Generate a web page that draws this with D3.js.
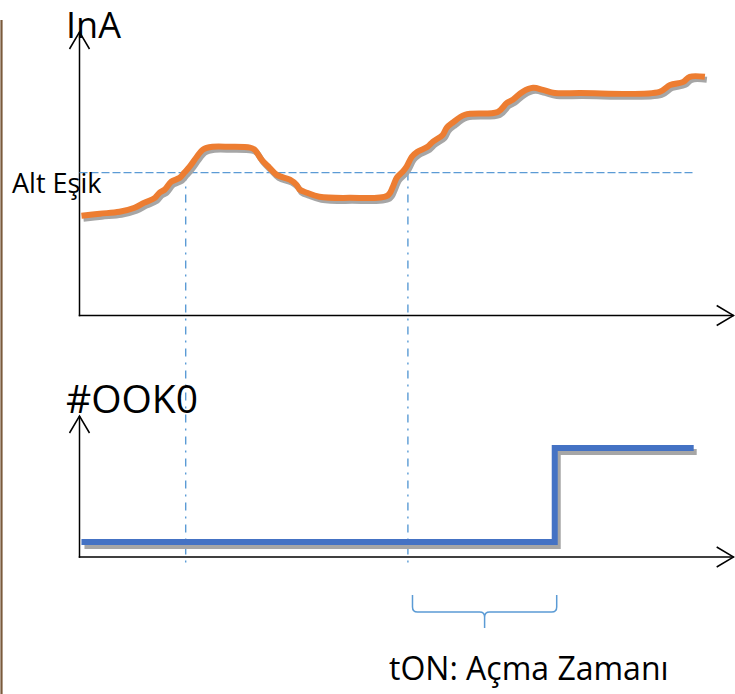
<!DOCTYPE html>
<html>
<head>
<meta charset="utf-8">
<script src="https://cdn.jsdelivr.net/npm/d3@7"></script>
<style>
  body { margin: 0; background: #fff; }
  svg { display: block; }
  text { font-family: "Open Sans", sans-serif; fill: #000; }
</style>
</head>
<body>
<svg id="chart" width="735" height="694"></svg>
<script>
// Measured current InA over time (arbitrary time units 0..100, current in % of scale)
const currentTime = [0.3, 3.1, 6.1, 8.4, 9.9, 11.5, 12.2, 13.0, 14.0, 15.3, 16.0, 16.8, 17.9, 18.8, 20.3, 22.9,
  26.0, 26.7, 27.8, 29.0, 30.1, 32.1, 33.1, 33.6, 34.7, 36.6, 41.2, 47.0, 47.8, 48.4, 49.3, 49.9, 50.7, 51.5,
  53.1, 53.9, 55.4, 56.0, 56.9, 58.8, 63.8, 65.2, 66.1, 67.6, 69.2, 70.7, 72.5, 76.3, 88.5, 90.1, 92.1, 93.1, 95.4];
const currentValue = [35.2, 35.9, 36.6, 38.0, 39.8, 41.5, 43.3, 44.4, 47.2, 48.6, 50.4, 52.5, 56.0, 58.5, 59.5, 59.5,
  59.2, 58.5, 54.9, 52.1, 49.6, 47.9, 46.1, 44.4, 43.3, 41.9, 41.5, 42.3, 45.4, 48.6, 50.7, 52.5, 56.0, 57.7,
  59.5, 61.3, 63.7, 66.2, 68.0, 70.8, 71.8, 75.0, 76.1, 78.9, 80.3, 79.6, 78.5, 78.5, 78.9, 81.3, 82.4, 84.2, 84.2];

// Lower threshold ("Alt Eşik") and the times the current crosses it
const threshold = 50.4;
const thresholdEnd = 93.9;
const crossingTimes = [16.2, 50.1];

// #OOK0 output state (0 = off, 1 = on)
const stateTime = [0.3, 72.5, 72.5, 93.7];
const stateValue = [0, 0, 1, 1];

// tON interval marked by the brace
const tonSpan = [50.8, 72.8];

// Text labels
const topAxisLabel = "InA";
const bottomAxisLabel = "#OOK0";
const thresholdLabel = "Alt Eşik";
const tonLabel = "tON: Açma Zamanı";

const svg = d3.select("#chart");

const x = d3.scaleLinear().domain([0, 100]).range([79.5, 735]);
const yTop = d3.scaleLinear().domain([0, 100]).range([315.5, 32]);
const yBot = d3.scaleLinear().domain([0, 1]).range([542, 448]);

const axisColor = "#000";
const guideColor = "#5B9BD5";
const shadowColor = "#A6A6A6";

// left page edge rule
svg.append("line")
  .attr("x1", 1.5).attr("x2", 1.5).attr("y1", 20).attr("y2", 694)
  .attr("stroke", "#7A5A3C").attr("stroke-width", 2.2);

// Draws an axis line with an open chevron arrowhead at (x2, y2)
function arrow(x1, y1, x2, y2) {
  const g = svg.append("g").attr("fill", "none").attr("stroke", axisColor)
    .attr("stroke-width", 1.5).attr("stroke-linejoin", "miter");
  g.append("line").attr("x1", x1).attr("y1", y1).attr("x2", x2).attr("y2", y2);
  const ang = Math.atan2(y2 - y1, x2 - x1);
  const L = 17, W = 10;
  const bx = x2 - L * Math.cos(ang), by = y2 - L * Math.sin(ang);
  const px = -Math.sin(ang) * W, py = Math.cos(ang) * W;
  g.append("path").attr("d", `M${bx + px},${by + py}L${x2},${y2}L${bx - px},${by - py}`);
}

// ---- Top panel: current ----
const x0 = x(0);
arrow(x0, yTop(0) + 0.75, x0, yTop(100));
arrow(x0 - 0.75, yTop(0), x(99.8), yTop(0));

// threshold line
svg.append("line")
  .attr("x1", x0).attr("x2", x(thresholdEnd))
  .attr("y1", yTop(threshold)).attr("y2", yTop(threshold))
  .attr("stroke", guideColor).attr("stroke-width", 1.4)
  .attr("stroke-dasharray", "8,3");

// vertical dash-dot guides at the crossings
svg.selectAll("line.cross").data(crossingTimes).join("line")
  .attr("class", "cross")
  .attr("x1", d => x(d)).attr("x2", d => x(d))
  .attr("y1", yTop(threshold)).attr("y2", 566)
  .attr("stroke", guideColor).attr("stroke-width", 1.4)
  .attr("stroke-dasharray", "8,6,2,6");

const currentData = currentTime.map((t, i) => [t, currentValue[i]]);
const currentLine = d3.line().curve(d3.curveCatmullRom.alpha(0.5))
  .x(d => x(d[0])).y(d => yTop(d[1]));

svg.append("path").datum(currentData)
  .attr("d", currentLine)
  .attr("transform", "translate(2,3)")
  .attr("fill", "none").attr("stroke", shadowColor).attr("stroke-width", 6)
  .attr("stroke-linejoin", "round");
svg.append("path").datum(currentData)
  .attr("d", currentLine)
  .attr("fill", "none").attr("stroke", "#ED7D31").attr("stroke-width", 6)
  .attr("stroke-linejoin", "round");

svg.append("text").attr("x", 66).attr("y", 38)
  .attr("font-family", "'Liberation Sans', sans-serif")
  .attr("font-size", 36).text(topAxisLabel);
svg.append("text").attr("x", 12).attr("y", 193)
  .attr("font-size", 27).text(thresholdLabel);

// ---- Bottom panel: output state ----
arrow(x0, 557.75, x0, 416);
arrow(x0 - 0.75, 557, x(99.8), 557);

const stateData = stateTime.map((t, i) => [t, stateValue[i]]);
const stateLine = d3.line().x(d => x(d[0])).y(d => yBot(d[1]));

svg.append("path").datum(stateData)
  .attr("d", stateLine)
  .attr("transform", "translate(3,4)")
  .attr("fill", "none").attr("stroke", shadowColor).attr("stroke-width", 6)
  .attr("stroke-linejoin", "miter");
svg.append("path").datum(stateData)
  .attr("d", stateLine)
  .attr("fill", "none").attr("stroke", "#4472C4").attr("stroke-width", 6)
  .attr("stroke-linejoin", "miter");

svg.append("text").attr("x", 66).attr("y", 413)
  .attr("font-size", 39).text(bottomAxisLabel);

// brace under the tON interval
const bL = x(tonSpan[0]), bR = x(tonSpan[1]), bM = (bL + bR) / 2;
const bTop = 595, bMid = 612, bTip = 628, r = 5;
svg.append("path")
  .attr("d", `M${bL},${bTop}V${bMid - r}Q${bL},${bMid} ${bL + r},${bMid}H${bM - r}Q${bM},${bMid} ${bM},${bMid + r}V${bTip}` +
             `M${bM},${bMid + r}Q${bM},${bMid} ${bM + r},${bMid}H${bR - r}Q${bR},${bMid} ${bR},${bMid - r}V${bTop}`)
  .attr("fill", "none").attr("stroke", guideColor).attr("stroke-width", 1.5);

svg.append("text").attr("x", 389).attr("y", 680)
  .attr("font-size", 32).text(tonLabel);
</script>
</body>
</html>
